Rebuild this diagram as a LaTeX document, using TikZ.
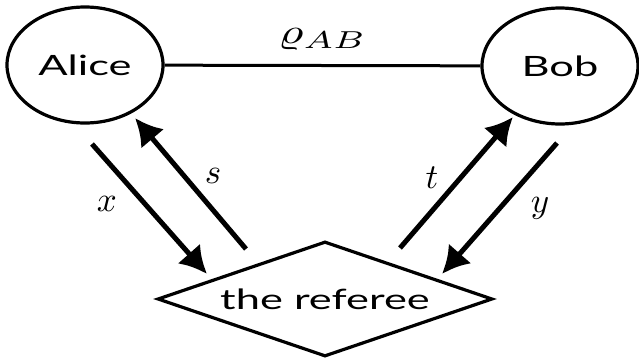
\documentclass[tikz,border=0pt]{standalone}
\usepackage{graphicx}
\usepackage{fontspec}
\newfontfamily\widesans[FakeStretch=1.55]{Lato}
\usetikzlibrary{shapes.geometric,arrows.meta}
\tikzset{
  party/.style={draw,ellipse,line width=3.2pt,minimum width=156pt,minimum height=116pt,inner sep=0pt,font=\widesans\fontsize{28}{30}\selectfont},
  judge/.style={draw,diamond,line width=3.2pt,shape aspect=2.9,minimum width=335pt,minimum height=115pt,inner sep=0pt,font=\widesans\fontsize{28}{30}\selectfont},
  msg/.style={line width=5pt,-{Latex[length=27pt,width=30pt]}},
  lbl/.style={inner sep=0pt},
  rholbl/.style={inner sep=0pt}
}
\begin{document}
\begin{tikzpicture}[x=1pt,y=-1pt]
\useasboundingbox (0,0) rectangle (639,359);
\node[party] (alice) at (85,65) {Alice};
\node[party] (bob) at (560,66) {Bob};
\node[judge] (ref) at (325,299) {the referee};
\draw[line width=3pt] (alice) -- node[above=14pt,rholbl] {\scalebox{4.9}[3.5]{$\varrho_{AB}$}} (bob);
\coordinate (xs) at (92,144);
\coordinate (xe) at (207,274);
\coordinate (ss) at (246,249);
\coordinate (se) at (135,118);
\coordinate (ts) at (400,248);
\coordinate (te) at (513,117);
\coordinate (ys) at (557,143);
\coordinate (ye) at (442,274);
\draw[msg] (xs) -- (xe);
\draw[msg] (ss) -- (se);
\draw[msg] (ts) -- (te);
\draw[msg] (ys) -- (ye);
\node[lbl] (xl) at (107,204) {\scalebox{3.5}{$x$}};
\node[lbl] (sl) at (213,176) {\scalebox{3.5}{$s$}};
\node[lbl] (tl) at (432,178) {\scalebox{3.5}{$t$}};
\node[lbl] (yl) at (540,208) {\scalebox{3.5}{$y$}};
\end{tikzpicture}
\end{document}
